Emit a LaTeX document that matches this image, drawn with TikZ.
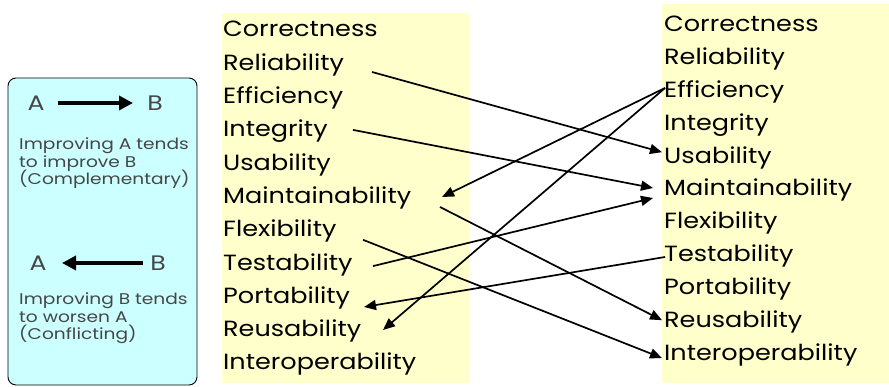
\documentclass[tikz,border=0pt]{standalone}
\usepackage{fontspec}
\setmainfont{Poppins}
\newfontfamily\listfont{Poppins}[FakeStretch=1.16]
\newfontfamily\legendfont{Poppins}[FakeStretch=1.2]
\usetikzlibrary{arrows.meta,calc}
\definecolor{listbg}{RGB}{255,255,204}
\definecolor{legendbg}{RGB}{204,255,255}
\definecolor{legendtext}{RGB}{70,70,70}
\begin{document}
\begin{tikzpicture}[x=1pt,y=-1pt,
  item/.style={anchor=base west,inner sep=0pt,font=\listfont\fontsize{22}{22}\selectfont},
  legendtxt/.style={anchor=base west,inner sep=0pt,text=legendtext,
    font=\legendfont\fontsize{15.5}{17.5}\selectfont,align=left},
  letter/.style={inner sep=0pt,text=legendtext,font=\legendfont\fontsize{21}{21}\selectfont},
  link/.style={line width=1.7pt,-{Triangle[length=12pt,width=10pt]}},
  bigarrow/.style={line width=4.5pt,-{Triangle[length=14pt,width=14pt]}}]
\useasboundingbox (0,0) rectangle (889,387);

% list backgrounds
\fill[listbg] (222,13) rectangle (469,383);
\fill[listbg] (662,4) rectangle (889,383);

% legend
\draw[fill=legendbg,rounded corners=8pt,line width=0.9pt] (8,78) rectangle (197,385);
\node[letter] (la1) at (36,103) {A};
\node[letter] (lb1) at (155,103) {B};
\draw[bigarrow] ($(la1.center)+(22,0)$) -- ($(lb1.center)+(-22,0)$);
\node[legendtxt] (lt1) at (19,150) {Improving A tends};
\node[legendtxt] (lt1b) at (19,167.5) {to improve B};
\node[legendtxt] (lt1c) at (19,185) {(Complementary)};
\node[letter] (la2) at (38,263) {A};
\node[letter] (lb2) at (158,263) {B};
\draw[bigarrow] ($(lb2.center)+(-15,0)$) -- ($(la2.center)+(24,0)$);
\node[legendtxt] (lt2) at (19,305) {Improving B tends};
\node[legendtxt] (lt2b) at (19,322.5) {to worsen A};
\node[legendtxt] (lt2c) at (19,340) {(Conflicting)};

% quality factors, left column
\foreach \n/\t [count=\i from 0] in {cor/Correctness,rel/Reliability,eff/Efficiency,
    int/Integrity,usa/Usability,mai/Maintainability,fle/Flexibility,tes/Testability,
    por/Portability,reu/Reusability,iop/Interoperability}
  \node[item] (L\n) at (223,{37+33.3*\i}) {\t};

% quality factors, right column
\foreach \n/\t [count=\i from 0] in {cor/Correctness,rel/Reliability,eff/Efficiency,
    int/Integrity,usa/Usability,mai/Maintainability,fle/Flexibility,tes/Testability,
    por/Portability,reu/Reusability,iop/Interoperability}
  \node[item] (R\n) at (664,{32+32.8*\i}) {\t};

% relationships
\draw[link] ($(Lrel.base west)+(149,1.7)$) -- ($(Rusa.base west)+(-2,-11)$);
\draw[link] ($(Lint.base west)+(130,-7)$) -- ($(Rmai.base west)+(-11,-8)$);
\draw[link] ($(Reff.base west)+(1,-9.6)$) -- ($(Lmai.base west)+(219,-6.5)$);
\draw[link] ($(Reff.base west)+(1,-9.6)$) -- ($(Lreu.base west)+(160,-6.7)$);
\draw[link] ($(Lmai.base west)+(217,3.5)$) -- ($(Rreu.base west)+(-2,-7)$);
\draw[link] ($(Ltes.base west)+(150,-4)$) -- ($(Rmai.base west)+(-11,2)$);
\draw[link] ($(Lfle.base west)+(140,3)$) -- ($(Riop.base west)+(-2,-2)$);
\draw[link] ($(Rtes.base west)+(1,-4.6)$) -- ($(Lpor.base west)+(141,3.6)$);
\end{tikzpicture}
\end{document}
